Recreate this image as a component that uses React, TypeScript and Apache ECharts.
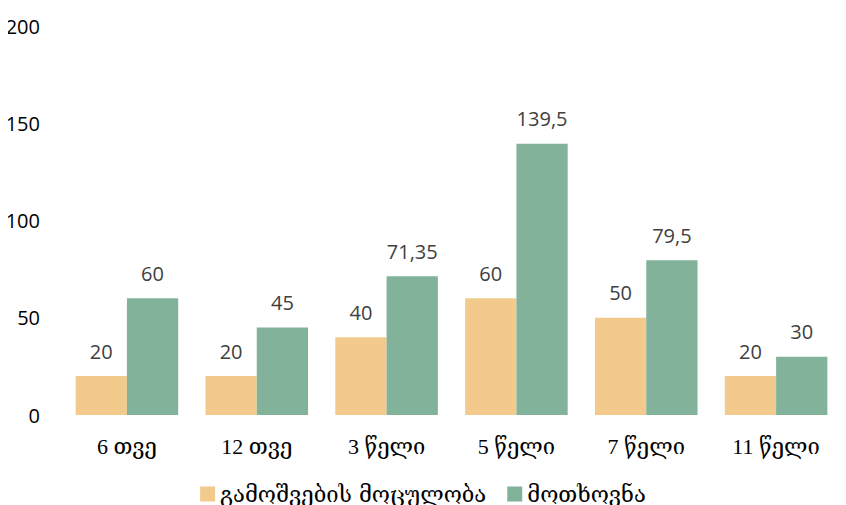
import React, { useEffect, useRef } from "react";
import * as echarts from "echarts";

const categories = ["6 თვე", "12 თვე", "3 წელი", "5 წელი", "7 წელი", "11 წელი"];
const seriesNames = ["გამოშვების მოცულობა", "მოთხოვნა"];
const volume = [20, 20, 40, 60, 50, 20];
const demand = [60, 45, 71.35, 139.5, 79.5, 30];
const colors = ["#F2CB8C", "#82B39A"];

export default function App() {
  const ref = useRef<HTMLDivElement>(null);
  useEffect(() => {
    const chart = echarts.init(ref.current!, null, { renderer: "svg" });
    const label = {
      show: true,
      position: "top",
      distance: 15,
      color: "#404040",
      fontSize: 20,
      fontFamily: "Open Sans, Noto Sans, sans-serif",
      formatter: (p: any) => String(p.value).replace(".", ","),
    };
    chart.setOption({
      animation: false,
      grid: { left: 62, right: 5, top: 26, bottom: 90, containLabel: false },
      legend: {
        top: 478,
        left: "center",
        itemWidth: 15,
        itemHeight: 15,
        itemGap: 21,
        icon: "rect",
        textStyle: { fontFamily: "DejaVu Serif, serif", fontSize: 22, color: "#000" },
        data: seriesNames,
      },
      xAxis: {
        type: "category",
        data: categories,
        axisLine: { show: false },
        axisTick: { show: false },
        axisLabel: {
          color: "#000",
          fontSize: 22,
          fontFamily: "Liberation Serif, DejaVu Serif, serif",
          margin: 20,
        },
      },
      yAxis: {
        type: "value",
        min: 0,
        max: 200,
        interval: 50,
        splitLine: { show: false },
        axisLabel: {
          color: "#000",
          fontSize: 20,
          fontFamily: "Open Sans, Noto Sans, sans-serif",
          margin: 22,
        },
      },
      series: [
        {
          name: seriesNames[0],
          type: "bar",
          data: volume,
          itemStyle: { color: colors[0] },
          barGap: "0%",
          barCategoryGap: "21%",
          label,
        },
        {
          name: seriesNames[1],
          type: "bar",
          data: demand,
          itemStyle: { color: colors[1] },
          barGap: "0%",
          barCategoryGap: "21%",
          label,
        },
      ],
    });
    return () => chart.dispose();
  }, []);
  return <div ref={ref} style={{ width: 846, height: 505, marginLeft: -8, marginTop: -8 }} />;
}
